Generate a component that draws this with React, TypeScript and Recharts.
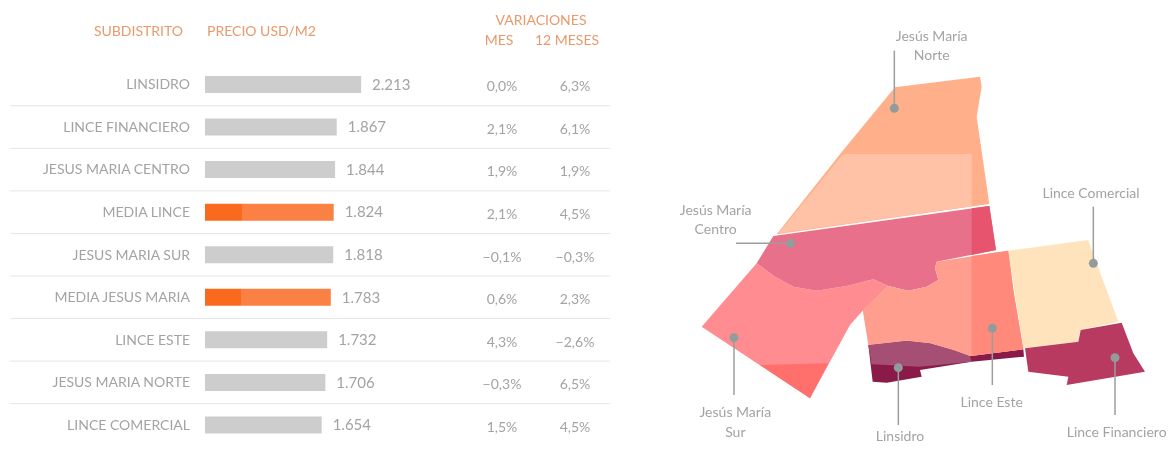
import { Bar, BarChart, Cell, LabelList, Scatter, ScatterChart, XAxis, YAxis } from "recharts";

type Pt = [number, number];

const subdistricts = [
  "LINSIDRO",
  "LINCE FINANCIERO",
  "JESUS MARIA CENTRO",
  "MEDIA LINCE",
  "JESUS MARIA SUR",
  "MEDIA JESUS MARIA",
  "LINCE ESTE",
  "JESUS MARIA NORTE",
  "LINCE COMERCIAL",
];
const prices = [2213, 1867, 1844, 1824, 1818, 1783, 1732, 1706, 1654];
const monthChange = ["0,0%", "2,1%", "1,9%", "2,1%", "−0,1%", "0,6%", "4,3%", "−0,3%", "1,5%"];
const yearChange = ["6,3%", "6,1%", "1,9%", "4,5%", "−0,3%", "2,3%", "−2,6%", "6,5%", "4,5%"];

// map outlines, in map units
const norte: Pt[] = [[705, 262], [960, 230], [965, 260], [950, 350], [988, 612], [350, 703], [550, 450], [690, 280]];
const norteLight: Pt[] = [[550, 462], [935, 462], [935, 619], [355, 700]];
const centro: Pt[] = [[340, 708], [988, 618], [1008, 750], [830, 785], [825, 805], [835, 840], [800, 860], [745, 872], [685, 858], [640, 838], [560, 858], [470, 872], [400, 860], [345, 830], [290, 790]];
const centroStrip: Pt[] = [[935, 625], [988, 618], [1008, 750], [935, 765]];
const sur: Pt[] = [[125, 980], [290, 790], [345, 830], [400, 860], [470, 872], [560, 858], [640, 838], [685, 858], [610, 930], [570, 975], [450, 1195]];
const surDark: Pt[] = [[300, 1095], [505, 1090], [450, 1195]];
const este: Pt[] = [[830, 785], [1045, 752], [1060, 870], [1090, 1048], [930, 1068], [880, 1050], [810, 1030], [740, 1022], [625, 1035], [608, 930], [685, 858], [745, 872], [800, 860], [835, 840], [825, 805]];
const esteStrip: Pt[] = [[935, 768], [1045, 752], [1060, 870], [1090, 1048], [935, 1068]];
const linsidro: Pt[] = [[625, 1035], [740, 1022], [810, 1030], [880, 1050], [930, 1068], [1090, 1048], [1092, 1070], [935, 1085], [780, 1110], [785, 1130], [680, 1148], [638, 1145]];
const linsidroLight: Pt[] = [[625, 1035], [740, 1022], [810, 1030], [880, 1050], [930, 1068], [935, 1085], [780, 1100], [635, 1093]];
const comercial: Pt[] = [[1045, 752], [1285, 720], [1310, 790], [1375, 965], [1260, 990], [1255, 1025], [1090, 1045]];
const financiero: Pt[] = [[1095, 1045], [1255, 1025], [1262, 990], [1385, 968], [1420, 1060], [1455, 1115], [1220, 1155], [1225, 1130], [1105, 1115]];

const leaderNorte: Pt[] = [[703, 152], [703, 325]];
const leaderCentro: Pt[] = [[228, 730], [392, 730]];
const leaderSur: Pt[] = [[222, 1185], [222, 1013]];
const leaderLinsidro: Pt[] = [[715, 1275], [715, 1103]];
const leaderEste: Pt[] = [[997, 1155], [997, 985]];
const leaderFinanciero: Pt[] = [[1365, 1245], [1365, 1073]];
const leaderComercial: Pt[] = [[1300, 620], [1300, 790]];

const mapLabels = [
  { x: 815, y: 107, text: "Jesús María" },
  { x: 815, y: 165, text: "Norte" },
  { x: 167, y: 630, text: "Jesús María" },
  { x: 167, y: 688, text: "Centro" },
  { x: 226, y: 1237, text: "Jesús María" },
  { x: 226, y: 1295, text: "Sur" },
  { x: 720, y: 1307, text: "Linsidro" },
  { x: 995, y: 1205, text: "Lince Este" },
  { x: 1370, y: 1297, text: "Lince Financiero" },
  { x: 1293, y: 580, text: "Lince Comercial" },
];

const FONT = "Lato, sans-serif";
const TEXT = "#a3a3a3";
const HEAD = "#e9996c";

const rows = subdistricts.map((name, i) => ({ name, price: prices[i] }));
const toData = (pts: Pt[]) => pts.map(([x, y]) => ({ x, y }));
const noDot = () => null;

function RowTick(props: any) {
  const { y, index, payload } = props;
  return (
    <g fontFamily={FONT} fontSize={14} fill={TEXT}>
      {index < subdistricts.length - 1 && <line x1={10} x2={610} y1={y + 21.5} y2={y + 21.5} stroke="#e6e6e6" />}
      <text x={190} y={y + 5} textAnchor="end">{payload.value}</text>
      <text x={502} y={y + 7} textAnchor="middle">{monthChange[index]}</text>
      <text x={575} y={y + 7} textAnchor="middle">{yearChange[index]}</text>
    </g>
  );
}

function region(pts: Pt[], fill: string) {
  return (
    <Scatter
      data={toData(pts)}
      shape={noDot}
      isAnimationActive={false}
      line={(p: any) => (
        <path
          key={fill}
          d={p.points.map((q: any, i: number) => `${i ? "L" : "M"}${q.x},${q.y}`).join("") + "Z"}
          fill={fill}
        />
      )}
    />
  );
}

function leader(pts: Pt[]) {
  return (
    <Scatter
      data={toData(pts)}
      isAnimationActive={false}
      line={{ stroke: "#9a9f9e", strokeWidth: 1.5 }}
      shape={(p: any) =>
        p.index === 1 ? <circle cx={p.cx} cy={p.cy} r={4.5} fill="#929c9a" /> : <g />
      }
    />
  );
}

export default function App() {
  return (
    <div style={{ position: "absolute", left: 0, top: 0, width: 1170, height: 450, overflow: "hidden", background: "#fff", filter: "blur(0.5px)" }}>
      <div style={{ position: "absolute", left: 0, top: 0 }}>
        <BarChart
          width={620}
          height={450}
          layout="vertical"
          data={rows}
          barCategoryGap={0}
          margin={{ top: 63, right: 15, bottom: 4, left: 0 }}
        >
          <defs>
            <linearGradient id="orangeBar" x1="0" x2="1" y1="0" y2="0">
              <stop offset="0.29" stopColor="#fa6a1e" />
              <stop offset="0.29" stopColor="#fb8044" />
            </linearGradient>
          </defs>
          <XAxis type="number" domain={[0, 5670]} hide />
          <YAxis type="category" dataKey="name" width={205} axisLine={false} tickLine={false} interval={0} tick={RowTick} />
          <Bar dataKey="price" barSize={17} isAnimationActive={false}>
            {rows.map((r) => (
              <Cell key={r.name} fill={r.name.startsWith("MEDIA") ? "url(#orangeBar)" : "#cdcdcd"} />
            ))}
            <LabelList
              dataKey="price"
              position="right"
              offset={11}
              fill={TEXT}
              fontFamily={FONT}
              fontSize={15}
              formatter={(v: any) => `${String(v)[0]}.${String(v).slice(1)}`}
            />
          </Bar>
          <g fontFamily={FONT} fontSize={14} fill={HEAD}>
            <text x={183} y={36} textAnchor="end">SUBDISTRITO</text>
            <text x={207} y={36}>PRECIO USD/M2</text>
            <text x={541} y={25} textAnchor="middle">VARIACIONES</text>
            <text x={499} y={45} textAnchor="middle">MES</text>
            <text x={567} y={45} textAnchor="middle">12 MESES</text>
          </g>
        </BarChart>
      </div>
      <div style={{ position: "absolute", left: 660, top: 0 }}>
        <ScatterChart width={510} height={450} margin={{ top: 0, right: 0, bottom: 0, left: 0 }}>
          <XAxis type="number" dataKey="x" domain={[0, 1530]} hide />
          <YAxis type="number" dataKey="y" domain={[0, 1350]} reversed hide />
          {region(norte, "#ffb08a")}
          {region(norteLight, "#ffc2a6")}
          {region(sur, "#ff8c90")}
          {region(surDark, "#ff6f6c")}
          {region(centro, "#e8708a")}
          {region(centroStrip, "#e6546e")}
          {region(linsidro, "#8a1b49")}
          {region(linsidroLight, "#a44f73")}
          {region(este, "#ff9d8e")}
          {region(esteStrip, "#ff897b")}
          {region(comercial, "#ffe3bc")}
          {region(financiero, "#b93a60")}
          {leader(leaderNorte)}
          {leader(leaderCentro)}
          {leader(leaderSur)}
          {leader(leaderLinsidro)}
          {leader(leaderEste)}
          {leader(leaderFinanciero)}
          {leader(leaderComercial)}
          <Scatter
            data={mapLabels}
            isAnimationActive={false}
            shape={(p: any) => (
              <text x={p.cx} y={p.cy + 5} textAnchor="middle" fontFamily={FONT} fontSize={14} fill={TEXT}>
                {p.payload.text}
              </text>
            )}
          />
        </ScatterChart>
      </div>
    </div>
  );
}
